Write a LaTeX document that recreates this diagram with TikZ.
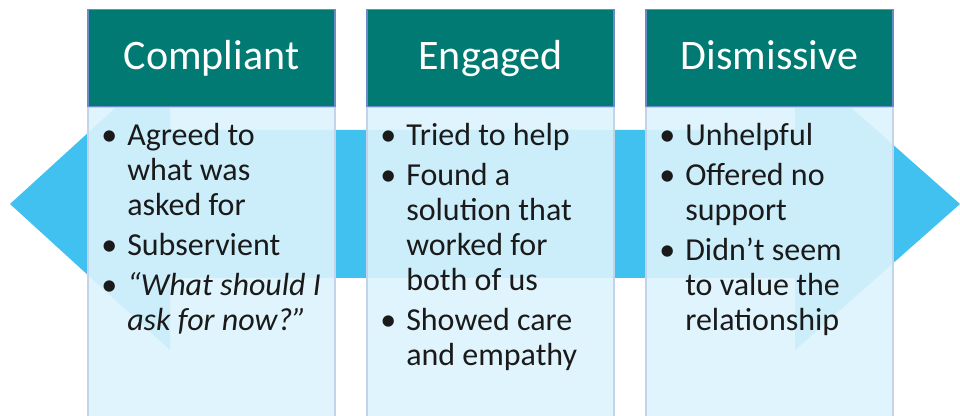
\documentclass[tikz,border=0pt]{standalone}
\usepackage{fontspec}
\setmainfont{Carlito}

\definecolor{arrowblue}{HTML}{41C1F0}
\definecolor{headteal}{HTML}{007A72}
\definecolor{headedge}{HTML}{6A8AC8}
\definecolor{panelfill}{HTML}{DCF3FC}
\definecolor{paneledge}{HTML}{C5D3EA}
\definecolor{bodytext}{HTML}{1A1A1A}

% one bullet point: bullet centred 15.75pt in, text hanging at 29.25pt;
% \\ breaks a line without ending the paragraph
\newcommand\bitem[1]{\par\begingroup\let\\\newline\noindent
  \hangindent=29.25pt\hangafter=1%
  \makebox[29.25pt][l]{\hspace{15.75pt}\makebox[0pt][c]{\textbullet}}#1\par\endgroup}
\newcommand\bulletlist[1]{\parbox[t]{183.75pt}{\raggedright
  \fontsize{24}{26.25}\selectfont\parskip=3.75pt #1}}

\begin{document}
\begin{tikzpicture}[x=0.75pt,y=-0.75pt,
  panel/.style={fill=panelfill, fill opacity=0.9, draw=paneledge, line width=0.8pt,
    minimum width=185.25pt, minimum height=233.25pt, inner sep=0pt, anchor=north},
  header/.style={fill=headteal, draw=headedge, line width=0.8pt,
    minimum width=185.25pt, minimum height=72.75pt, inner sep=0pt, anchor=south,
    text=white, font=\fontsize{31.5}{37}\selectfont, text height=20pt, text depth=2pt},
  bullets/.style={anchor=base west, inner sep=0pt, text=bodytext}]
\useasboundingbox (0,0) rectangle (960,416);

% double-headed arrow running behind the three columns
\fill[arrowblue] (10,204) -- (170,58) -- (170,130) -- (795,130) -- (795,58)
  -- (960,204) -- (795,350) -- (795,278) -- (170,278) -- (170,350) -- cycle;

% column bodies
\node[panel] (p1) at (211.5,107) {};
\node[panel] (p2) at (490.5,107) {};
\node[panel] (p3) at (769.5,107) {};

% column headings
\node[header] (h1) at (p1.north) {Compliant};
\node[header] (h2) at (p2.north) {Engaged};
\node[header] (h3) at (p3.north) {Dismissive};

% bullet points
\node[bullets] (t1) at (88,146) {\bulletlist{%
  \bitem{Agreed to\\what was\\asked for}%
  \bitem{Subservient}%
  \bitem{\itshape “What should I\\ask for now?”}}};
\node[bullets] (t2) at (367,146) {\bulletlist{%
  \bitem{Tried to help}%
  \bitem{Found a\\solution that\\worked for\\both of us}%
  \bitem{Showed care\\and empathy}}};
\node[bullets] (t3) at (646,146) {\bulletlist{%
  \bitem{Unhelpful}%
  \bitem{Offered no\\support}%
  \bitem{Didn’t seem\\to value the\\relationship}}};
\end{tikzpicture}
\end{document}
